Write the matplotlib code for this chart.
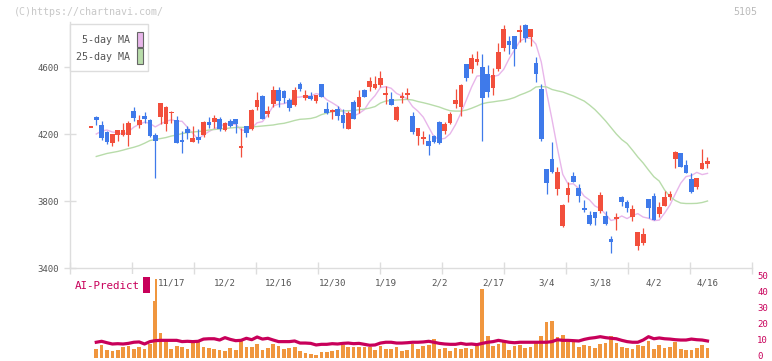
import numpy as np
import pandas as pd
import matplotlib
matplotlib.use('Agg')
import matplotlib.pyplot as plt
from matplotlib.patches import Rectangle
import matplotlib.transforms as mtransforms

# ---- daily prices, index 0 = first candle ----
opens = [4240, 4300, 4254, 4210, 4148, 4194, 4194, 4196, 4337, 4254,
         4307, 4284, 4194, 4301, 4258, 4325, 4284, 4164, 4230, 4154,
         4182, 4194, 4274, 4274, 4290, 4224, 4278, 4288, 4118, 4246,
         4228, 4363, 4427, 4321, 4382, 4463, 4457, 4403, 4373, 4499,
         4417, 4427, 4399, 4499, 4352, 4330, 4352, 4313, 4232, 4391,
         4363, 4463, 4481, 4475, 4493, 4435, 4409, 4284, 4417, 4435,
         4307, 4188, 4170, 4158, 4188, 4272, 4218, 4266, 4379, 4361,
         4618, 4588, 4632, 4600, 4558, 4476, 4588, 4714, 4755, 4785,
         4811, 4851, 4779, 4624, 4469, 3991, 4051, 3872, 3651, 3836,
         3949, 3879, 3760, 3716, 3734, 3742, 3710, 3573, 3694, 3824,
         3794, 3704, 3533, 3548, 3812, 3830, 3725, 3770, 3824, 4051,
         4087, 4015, 3930, 3884, 3991, 4021]
closes = [4244, 4284, 4178, 4154, 4200, 4224, 4224, 4264, 4294, 4284,
          4288, 4188, 4158, 4385, 4361, 4333, 4148, 4154, 4206, 4176,
          4164, 4274, 4252, 4294, 4228, 4264, 4246, 4258, 4128, 4204,
          4343, 4403, 4292, 4337, 4463, 4397, 4417, 4357, 4463, 4469,
          4433, 4409, 4433, 4423, 4325, 4343, 4309, 4268, 4325, 4292,
          4421, 4420, 4516, 4499, 4534, 4445, 4373, 4361, 4427, 4445,
          4212, 4236, 4182, 4130, 4152, 4146, 4260, 4319, 4403, 4493,
          4534, 4654, 4648, 4415, 4450, 4552, 4690, 4827, 4731, 4707,
          4821, 4773, 4827, 4558, 4170, 3907, 3973, 3971, 3776, 3879,
          3916, 3827, 3746, 3663, 3700, 3836, 3663, 3557, 3704, 3794,
          3758, 3752, 3615, 3602, 3758, 3687, 3767, 3826, 3842, 4093,
          4003, 3967, 3856, 3936, 4027, 4039]
highs = [4244, 4307, 4278, 4218, 4200, 4226, 4264, 4280, 4361, 4313,
         4331, 4290, 4208, 4385, 4365, 4337, 4307, 4220, 4250, 4246,
         4230, 4280, 4300, 4313, 4303, 4270, 4290, 4290, 4234, 4248,
         4350, 4451, 4432, 4367, 4487, 4481, 4460, 4417, 4481, 4510,
         4463, 4451, 4433, 4499, 4391, 4349, 4367, 4349, 4339, 4403,
         4463, 4469, 4540, 4546, 4576, 4487, 4451, 4365, 4451, 4475,
         4331, 4236, 4218, 4200, 4194, 4275, 4272, 4331, 4469, 4499,
         4620, 4678, 4696, 4678, 4612, 4594, 4743, 4851, 4785, 4785,
         4851, 4857, 4827, 4660, 4499, 3991, 4152, 4003, 3782, 3916,
         3975, 3903, 3806, 3740, 3734, 3854, 3740, 3591, 3727, 3828,
         3806, 3776, 3615, 3639, 3812, 3845, 3797, 3860, 3860, 4100,
         4087, 4045, 3968, 3936, 4110, 4065]
lows = [4240, 4252, 4164, 4138, 4128, 4160, 4190, 4128, 4278, 4234,
        4264, 4185, 3935, 4258, 4218, 4264, 4148, 4088, 4172, 4152,
        4144, 4180, 4234, 4234, 4220, 4220, 4244, 4204, 4065, 4184,
        4225, 4343, 4292, 4301, 4363, 4363, 4385, 4337, 4370, 4459,
        4403, 4403, 4387, 4423, 4319, 4292, 4284, 4238, 4228, 4292,
        4327, 4420, 4457, 4469, 4481, 4379, 4373, 4280, 4387, 4409,
        4202, 4134, 4140, 4075, 4146, 4140, 4200, 4260, 4355, 4307,
        4516, 4564, 4612, 4158, 4420, 4433, 4576, 4696, 4678, 4606,
        4749, 4749, 4725, 4510, 4158, 3842, 3970, 3836, 3645, 3794,
        3916, 3796, 3734, 3657, 3657, 3727, 3657, 3491, 3627, 3770,
        3734, 3680, 3509, 3535, 3698, 3687, 3707, 3770, 3806, 3995,
        4003, 3967, 3850, 3870, 3991, 3999]

# 25-day moving average (starts at index 1)
ma25 = [np.nan,
        4066, 4075, 4084, 4090, 4096, 4104, 4113, 4121, 4131, 4145,
        4161, 4168, 4173, 4179, 4188, 4194, 4203, 4208, 4212, 4215,
        4218, 4224, 4227, 4230, 4233, 4236, 4239, 4240, 4240, 4242,
        4245, 4248, 4251, 4254, 4260, 4264, 4272, 4281, 4288, 4290,
        4293, 4301, 4316, 4325, 4333, 4337, 4338, 4339, 4341, 4345,
        4349, 4355, 4364, 4385, 4397, 4400, 4403, 4405, 4407, 4403,
        4394, 4387, 4379, 4370, 4361, 4349, 4339, 4337, 4337, 4343,
        4354, 4367, 4381, 4388, 4392, 4397, 4401, 4408, 4418, 4433,
        4445, 4459, 4481, 4484, 4481, 4466, 4458, 4451, 4439, 4427,
        4412, 4397, 4373, 4346, 4313, 4278, 4239, 4200, 4167, 4143,
        4104, 4063, 4027, 3985, 3945, 3919, 3866, 3827, 3803, 3788,
        3785, 3785, 3786, 3791, 3800]
# first few 5-day MA values need earlier closes ->
ma5_head = [4200, 4218, 4224]

volume = [0, 5.7, 8.2, 5.0, 4.4, 5.0, 7.1, 7.5, 5.7, 7.1,
          5.7, 8.8, 49.7, 15.7, 10.5, 5.7, 7.5, 6.9, 5.7, 10.1,
          10.1, 6.9, 6.3, 5.7, 5.0, 4.4, 6.3, 5.0, 11.1, 6.9,
          6.9, 8.8, 5.0, 6.3, 8.8, 7.5, 5.7, 6.3, 6.9, 4.4,
          3.1, 2.5, 1.9, 3.8, 3.8, 4.4, 5.0, 8.2, 6.9, 6.9,
          6.9, 6.9, 6.9, 5.0, 7.5, 5.7, 5.7, 6.9, 4.4, 5.0,
          8.8, 5.7, 7.5, 8.2, 11.9, 5.7, 6.3, 4.4, 6.3, 5.7,
          6.3, 5.7, 7.5, 43.4, 13.8, 7.5, 8.8, 10.1, 5.0, 7.5,
          8.2, 6.3, 6.9, 10.1, 13.8, 22.6, 23.3, 13.2, 14.5, 10.1,
          10.1, 6.9, 8.2, 7.5, 6.3, 8.8, 9.4, 13.8, 9.4, 6.9,
          6.3, 5.7, 8.2, 7.5, 10.7, 5.7, 8.2, 6.3, 6.9, 10.1,
          5.7, 5.0, 5.0, 6.3, 8.2, 6.3]
ai_predict = [np.nan,
              9.9, 10.5, 9.6, 8.8, 9.0, 8.8, 9.2, 9.9, 10.1, 8.8,
              10.3, 10.9, 11.1, 11.1, 11.1, 11.1, 10.3, 10.5, 10.3, 10.5,
              11.9, 12.1, 12.1, 11.3, 12.8, 11.7, 10.9, 11.1, 12.4, 11.5,
              13.2, 11.9, 12.4, 11.3, 10.3, 10.3, 10.3, 10.7, 9.4, 9.4,
              9.2, 8.2, 8.6, 8.6, 9.0, 8.8, 9.2, 9.4, 9.0, 9.2,
              8.6, 8.0, 8.2, 9.4, 9.9, 9.9, 9.4, 9.4, 9.6, 9.9,
              9.9, 10.1, 10.5, 9.9, 9.2, 8.8, 8.6, 8.6, 9.2, 8.6,
              8.8, 8.4, 9.2, 9.9, 10.3, 11.1, 10.5, 9.9, 9.6, 9.9,
              9.9, 9.9, 9.9, 9.9, 9.9, 10.3, 11.5, 11.1, 11.1, 10.9,
              10.7, 11.7, 12.4, 12.8, 13.4, 12.8, 12.4, 12.1, 11.1, 10.3,
              9.9, 9.9, 11.3, 13.4, 12.1, 12.6, 12.1, 11.9, 11.5, 11.3,
              11.3, 11.9, 11.5, 11.3, 10.7]

date_labels = ['11/17', '12/2', '12/16', '12/30', '1/19', '2/2',
               '2/17', '3/4', '3/18', '4/2', '4/16']
date_index = [15, 25, 35, 45, 55, 65, 75, 85, 95, 105, 115]
price_ticks = [3400, 3800, 4200, 4600]
vol_ticks = [0, 10, 20, 30, 40, 50]

UP = '#f24f3c'
DOWN = '#3f7aea'
PINK = '#e8b6ea'
GREEN = '#b8dcaa'
CRIMSON = '#c8005a'
ORANGE = '#f0963e'
GRID = '#dddddd'
MONO = 'DejaVu Sans Mono'

W, H = 772, 361


def box(l, t, r, b):
    return [l / W, 1 - b / H, (r - l) / W, (b - t) / H]


def fx(px):
    return px / W


def fy(py):
    return 1 - py / H


o = np.array(opens, float)
c = np.array(closes, float)
hi = np.array(highs, float)
lo = np.array(lows, float)
x = np.arange(len(o))

ma5 = pd.Series(c).rolling(5).mean().to_numpy()
ma5[0] = np.nan
ma5[1:4] = ma5_head

fig = plt.figure(figsize=(7.72, 3.61), dpi=100)

# ---------------- price panel ----------------
ax = fig.add_axes(box(70, 22, 752, 268))
ax.set_xlim(-3.9, 123.3)
ax.set_ylim(3400, 4869)
ax.patch.set_visible(False)

col = np.where(c >= o, UP, DOWN)
ax.vlines(x, lo, hi, colors=col, linewidth=0.9, zorder=2)
body = c - o
body = np.where(np.abs(body) < 8, 8, body)
bottom = np.where(np.abs(c - o) < 8, (o + c) / 2 - 4, o)
ax.bar(x, body, bottom=bottom, width=0.88, color=col, linewidth=0, zorder=3)

ax.plot(x, ma5, color=PINK, lw=1.0, zorder=1)
ax.plot(x, ma25, color=GREEN, lw=1.0, zorder=1)

for s in ['top', 'right']:
    ax.spines[s].set_visible(False)
for s in ['left', 'bottom']:
    ax.spines[s].set_color(GRID)
    ax.spines[s].set_linewidth(1)
ax.set_yticks(price_ticks)
ax.set_yticklabels([str(p) for p in price_ticks], fontfamily=MONO,
                   fontsize=6.5, color='#555555')
ax.set_xticks(np.linspace(-3.9, 123.3, 12))
ax.set_xticklabels([])
ax.tick_params(axis='both', direction='inout', length=8, width=1,
               color=GRID, pad=4)

# ---------------- volume panel ----------------
axv = fig.add_axes(box(70, 275.3, 752, 358))
axv.set_xlim(-3.9, 123.3)
axv.set_ylim(0, 52)
axv.patch.set_visible(False)
axv.bar(x, volume, width=0.69, color=ORANGE, linewidth=0, zorder=2)
axv.plot(x, ai_predict, color=CRIMSON, lw=2.3, zorder=3)
for s in axv.spines.values():
    s.set_visible(False)
axv.set_xticks([])
axv.set_yticks([])

# right-hand volume scale, nudged up a little so "0" stays inside
lab_tr = mtransforms.offset_copy(axv.get_yaxis_transform(), fig=fig,
                                 x=5, y=1.5, units='dots')
for v in vol_ticks:
    axv.text(1.0, v, str(v), transform=lab_tr, fontfamily=MONO,
             fontsize=6.5, color=CRIMSON, ha='left', va='center')

# white background of the AI-Predict legend (cuts the first spike)
fig.add_artist(Rectangle((fx(72), fy(301)), (155 - 72) / W, (301 - 274) / H,
                         transform=fig.transFigure, facecolor='white',
                         edgecolor='none', zorder=5))
fig.text(fx(75), fy(286), 'AI-Predict', fontfamily=MONO, fontsize=7.8,
         color=CRIMSON, va='center', ha='left', zorder=6)
fig.add_artist(Rectangle((fx(143), fy(293)), 6.5 / W, 16 / H,
                         transform=fig.transFigure, facecolor=CRIMSON,
                         edgecolor='none', zorder=6))

for lab, i in zip(date_labels, date_index):
    axv.text(i, 47.2, lab, fontfamily=MONO, fontsize=6.6, color='#555555',
             ha='center', va='center', zorder=7)

# ---------------- MA legend box ----------------
fig.add_artist(Rectangle((fx(70), fy(71)), 78 / W, 47 / H,
                         transform=fig.transFigure, facecolor='white',
                         edgecolor=GRID, lw=1, zorder=5))
fig.text(fx(130), fy(40), '5-day MA', fontfamily=MONO, fontsize=7.2,
         color='#555555', ha='right', va='center', zorder=6)
fig.text(fx(130), fy(57), '25-day MA', fontfamily=MONO, fontsize=7.2,
         color='#555555', ha='right', va='center', zorder=6)
fig.add_artist(Rectangle((fx(136.5), fy(47)), 6 / W, 15 / H,
                         transform=fig.transFigure, facecolor=PINK,
                         edgecolor='#666666', lw=0.8, zorder=6))
fig.add_artist(Rectangle((fx(136.5), fy(63.5)), 6 / W, 15 / H,
                         transform=fig.transFigure, facecolor=GREEN,
                         edgecolor='#666666', lw=0.8, zorder=6))

# ---------------- header texts ----------------
fig.text(fx(14), fy(12), '(C)https://chartnavi.com/', fontfamily=MONO,
         fontsize=7.2, color='#c8c8c8', ha='left', va='center')
fig.text(fx(757), fy(12), '5105', fontfamily=MONO, fontsize=7.2,
         color='#bbbbbb', ha='right', va='center')

fig.savefig('out.png', dpi=100)
